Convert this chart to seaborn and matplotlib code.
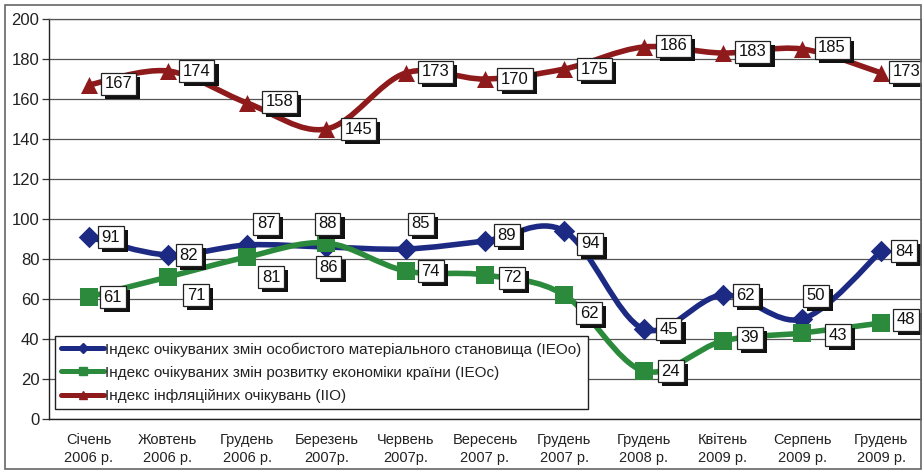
import numpy as np
import matplotlib
matplotlib.use("Agg")
import matplotlib.pyplot as plt
import matplotlib.patheffects as pe
from matplotlib.path import Path
from matplotlib.patches import PathPatch, Rectangle
from matplotlib.lines import Line2D
import seaborn as sns

# --- data ---
categories = ["Січень\n2006 р.", "Жовтень\n2006 р.", "Грудень\n2006 р.", "Березень\n2007р.",
              "Червень\n2007р.", "Вересень\n2007 р.", "Грудень\n2007 р.", "Грудень\n2008 р.",
              "Квітень\n2009 р.", "Серпень\n2009 р.", "Грудень\n2009 р."]
ieoo = [91, 82, 87, 86, 85, 89, 94, 45, 62, 50, 84]
ieoc = [61, 71, 81, 88, 74, 72, 62, 24, 39, 43, 48]
iio = [167, 174, 158, 145, 173, 170, 175, 186, 183, 185, 173]
legend_labels = ["Індекс очікуваних змін особистого матеріального становища (IEOo)",
                 "Індекс очікуваних змін розвитку економіки країни (IEOc)",
                 "Індекс інфляційних очікувань (IIO)"]

# label box offsets in pixels (dx, dy), layout only
off_ieoo = [(22, 0), (21, 0), (19, 21), (2, -20), (15, 25), (22, 6), (26, -13),
            (25, 0), (23, 0), (14, 23), (23, 0)]
off_ieoc = [(24, 0), (28, -18), (24, -20), (1, 19), (25, 0), (27, -3), (25, -18),
            (27, 0), (27, 3), (36, -2), (25, 3)]
off_iio = [(30, 1), (29, 0), (32, 1), (32, 0), (30, 1), (30, 0), (30, 0),
           (30, 1), (30, 1), (30, 1), (25, 1)]

BLUE = "#1c2a84"
GREEN = "#2b8a3b"
RED = "#8e1a1c"

sns.set_theme(style="white")
plt.rcParams['font.family'] = ['Liberation Sans', 'DejaVu Sans']


def smooth_path(xs, ys):
    pts = np.column_stack([xs, ys]).astype(float)
    n = len(pts)
    verts = [pts[0]]
    codes = [Path.MOVETO]
    for i in range(n - 1):
        p0 = pts[i - 1] if i > 0 else pts[i]
        p1, p2 = pts[i], pts[i + 1]
        p3 = pts[i + 2] if i + 2 < n else pts[i + 1]
        verts += [p1 + (p2 - p0) / 6, p2 - (p3 - p1) / 6, p2]
        codes += [Path.CURVE4] * 3
    return Path(verts, codes)


fig = plt.figure(figsize=(9.22, 4.70), dpi=100)
ax = fig.add_axes([49 / 922, 51 / 470, 872 / 922, 400 / 470])
x = np.arange(len(categories))

series = [(ieoo, BLUE, "D", 120, off_ieoo),
          (ieoc, GREEN, "s", 150, off_ieoc),
          (iio, RED, "^", 150, off_iio)]

z = 3
for vals, col, mk, sz, offs in series:
    ax.add_patch(PathPatch(smooth_path(x, vals), facecolor="none", edgecolor=col,
                           lw=4.0, zorder=z, capstyle="round", joinstyle="round"))
    sns.scatterplot(x=x, y=vals, marker=mk, s=sz, color=col, edgecolor=col,
                    linewidth=0, ax=ax, zorder=z + 0.5, legend=False)
    z += 1

for vals, col, mk, sz, offs in series:
    for xi, v, (dx, dy) in zip(x, vals, offs):
        t = ax.annotate(str(v), (xi, v), xytext=(dx, dy), textcoords="offset pixels",
                        ha="center", va="center", fontsize=12, color="#111111", zorder=10,
                        bbox=dict(boxstyle="square,pad=0.22", fc="white", ec="#222222", lw=0.9),
                        annotation_clip=False)
        t.get_bbox_patch().set_path_effects(
            [pe.SimplePatchShadow(offset=(3, -3), shadow_rgbFace="#111111", alpha=1.0),
             pe.Normal()])

ax.set_xlim(-0.5, len(categories) - 0.5)
ax.set_ylim(0, 200)
ax.set_yticks(range(0, 201, 20))
ax.yaxis.grid(True, color="#555555", lw=0.9)
ax.set_axisbelow(True)
ax.set_xticks(x)
ax.set_xticklabels(categories, fontsize=10.5, color="#222222", linespacing=1.35)
ax.set_xticks(np.arange(-0.5, len(categories), 1), minor=True)
ax.tick_params(axis="x", which="major", length=0, pad=10)
ax.tick_params(axis="x", which="minor", length=5, width=0.9, color="#333333", direction="out")
ax.tick_params(axis="y", length=5, width=0.9, color="#333333", direction="out",
               labelsize=12, labelcolor="#222222", pad=2)
ax.tick_params(axis="both", bottom=True, left=True)
for s in ["left", "bottom"]:
    ax.spines[s].set_color("#222222")
    ax.spines[s].set_linewidth(1.0)
for s in ["top", "right"]:
    ax.spines[s].set_color("#555555")
    ax.spines[s].set_linewidth(0.9)
ax.set_xlabel("")
ax.set_ylabel("")

handles = [Line2D([], [], color=c, lw=3.6, marker=m, markersize=ms)
           for c, m, ms in [(BLUE, "D", 5), (GREEN, "s", 6), (RED, "^", 6)]]
leg = fig.legend(handles, legend_labels, loc="upper left",
                 bbox_to_anchor=(55 / 922, 1 - 336 / 470), fontsize=11,
                 frameon=True, fancybox=False, handlelength=2.8, handletextpad=0.1,
                 labelspacing=0.6, borderpad=0.4, borderaxespad=0)
leg.get_frame().set_edgecolor("#222222")
leg.get_frame().set_linewidth(1.0)
leg.get_frame().set_facecolor("white")
leg.get_frame().set_alpha(1)
leg.set_zorder(20)
for txt in leg.get_texts():
    txt.set_color("#222222")

fig.patches.append(Rectangle((5 / 922, 1 / 470), 916 / 922, 464 / 470, transform=fig.transFigure,
                             fill=False, ec="#666666", lw=1.2))

fig.savefig("out.png", dpi=100)
